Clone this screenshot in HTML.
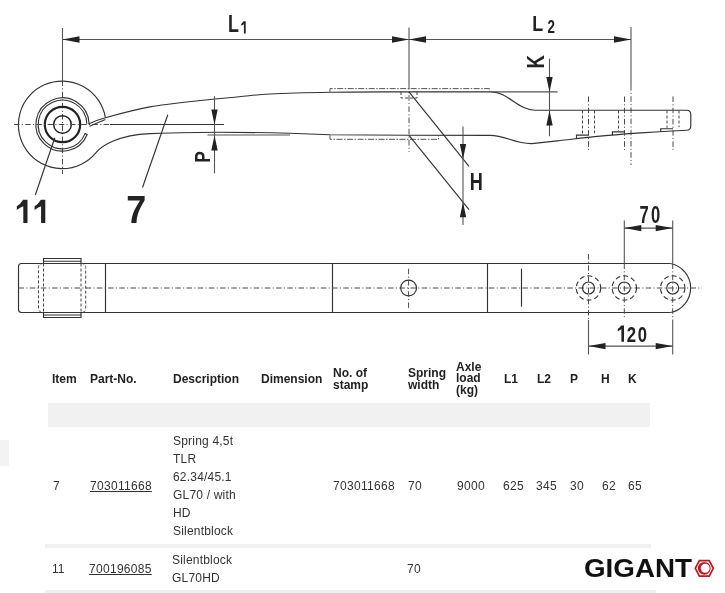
<!DOCTYPE html>
<html><head><meta charset="utf-8">
<style>
html,body{margin:0;padding:0;background:#fff;width:725px;height:593px;overflow:hidden;position:relative;font-family:"Liberation Sans",sans-serif;}
svg{position:absolute;left:0;top:0;will-change:transform;}
svg text{font-family:"Liberation Sans",sans-serif;}
.s{fill:none;stroke:#333;stroke-width:1.15;}
.dd{fill:none;stroke:#4a4a4a;stroke-width:1;stroke-dasharray:5.5 2.3 1.1 2.3;}
.dsh{fill:none;stroke:#444;stroke-width:1;stroke-dasharray:3 2;}
.k{fill:none;stroke:#222;}
.dm{fill:none;stroke:#555;stroke-width:1.1;}
.dc{fill:none;stroke:#333;stroke-width:1.1;stroke-dasharray:5 3;}
.pl{fill:none;stroke:#555;stroke-width:1;stroke-dasharray:6 1.5 1.5 1.5;}
.a{fill:#222;stroke:none;}
.t{position:absolute;white-space:nowrap;color:#333;will-change:transform;}
</style></head><body>
<div style="position:absolute;left:48px;top:403px;width:602px;height:24px;background:#f1f1f1"></div>
<div style="position:absolute;left:0px;top:440px;width:9px;height:26px;background:#f3f3f3"></div>
<div style="position:absolute;left:45px;top:544px;width:606px;height:4px;background:#f0f0f0"></div>
<div style="position:absolute;left:45px;top:590px;width:611px;height:3px;background:#f0f0f0"></div>
<svg width="725" height="360" viewBox="0 0 725 360">
<line class="dm" x1="62.5" y1="39.5" x2="631" y2="39.5"/>
<line class="dm" x1="62.5" y1="28" x2="62.5" y2="80.5"/>
<line class="dm" x1="409" y1="27.5" x2="409" y2="84"/>
<line class="dm" x1="631" y1="27" x2="631" y2="85"/>
<line class="dd" x1="62.5" y1="80.5" x2="62.5" y2="174"/>
<line class="dd" x1="409" y1="84" x2="409" y2="152"/>
<line class="dd" x1="631" y1="85" x2="631" y2="165"/>
<path class="s" d="M105.4 117.7 A43.8 43.8 0 1 0 96.05 152.65 C101.84 145.76 118 135 150 133.6 C175 132.8 200 132.2 220 132.2 C250 132.2 290 133.2 330 134.7 L408 135.3 L490 135.3 C506 135.3 514 143.9 532 143.6" />
<path class="s" d="M89.08 123.57 A26.6 26.6 0 1 0 87.16 134.46 L85.03 133.60 A24.3 24.3 0 1 1 86.79 123.65" />
<circle class="k" cx="62.5" cy="124.5" r="17.7" stroke-width="2.2"/>
<circle class="k" cx="62.5" cy="124.5" r="8.8" stroke-width="1.5"/>
<line class="dd" x1="14" y1="124.5" x2="110" y2="124.5"/>
<line class="s" x1="110" y1="124.5" x2="224" y2="124.5"/>
<path class="s" d="M88.20 124.00 C91.07 122.95 95.10 120.55 105.40 117.70 C115.70 114.85 134.23 109.77 150.00 106.90 C165.77 104.03 185.17 102.18 200.00 100.50 C214.83 98.82 227.33 97.88 239.00 96.80 C250.67 95.72 254.83 94.75 270.00 94.00 C285.17 93.25 308.33 92.65 330.00 92.30 C351.67 91.95 388.33 91.97 400.00 91.90 L491.5 91.9 C508 91.9 518 110.2 535 110.2 L686.5 110.2 Q690.8 110.2 690.8 114.5 L690.8 126 Q690.8 130.2 686.5 130.2" />
<path class="s" d="M532.00 143.60 C536.67 143.08 548.67 141.75 560.00 140.50 C571.33 139.25 586.50 137.37 600.00 136.10 C613.50 134.83 626.58 133.88 641.00 132.90 C655.42 131.92 678.92 130.65 686.50 130.20" />
<line class="s" x1="89.5" y1="126.3" x2="105.4" y2="119.5"/>
<path class="pl" d="M330 91.9 L330 88.6 L489.5 88.6 L489.5 91.9" />
<path class="pl" d="M330 135.3 L330 139.3 L438.6 139.3 L438.6 135.3" />
<path class="dsh" d="M401 92 L401 98 L417 98 L417 92" />
<line class="s" x1="409" y1="91.9" x2="469" y2="166.4"/>
<line class="s" x1="409" y1="135.3" x2="469" y2="209.6"/>
<line class="dm" x1="463" y1="126.5" x2="463" y2="225"/>
<line class="dm" x1="214.5" y1="96.1" x2="214.5" y2="173.3"/>
<line class="dm" x1="207.5" y1="135.0" x2="290" y2="135.0"/>
<line class="dm" x1="491.5" y1="91.9" x2="557.7" y2="91.9"/>
<line class="dm" x1="549.5" y1="58.6" x2="549.5" y2="136.3"/>
<line class="dd" x1="588.5" y1="96.5" x2="588.5" y2="150"/>
<line class="dsh" x1="582.5" y1="110.5" x2="582.5" y2="134.525"/>
<line class="dsh" x1="594.5" y1="110.5" x2="594.5" y2="133.20499999999998"/>
<path class="s" d="M576.5 138.69 L576.5 135.06 L588.5 135.06" stroke-width="0.9"/>
<line class="dd" x1="624.5" y1="96.5" x2="624.5" y2="150"/>
<line class="dsh" x1="618.5" y1="110.5" x2="618.5" y2="131.1560975609756"/>
<path class="s" d="M612.4 135.13 L612.4 131.89 L624.5 131.89" stroke-width="0.9"/>
<line class="dd" x1="673" y1="96.5" x2="673" y2="150"/>
<line class="dsh" x1="667" y1="110.5" x2="667" y2="127.85714285714286"/>
<line class="dsh" x1="679" y1="110.5" x2="679" y2="127.14505494505494"/>
<path class="s" d="M660.7 131.73 L660.7 128.70 L673 128.70" stroke-width="0.9"/>
<line class="s" x1="35.3" y1="195" x2="54.8" y2="137.7"/>
<line class="s" x1="142.5" y1="187.5" x2="167.8" y2="114.8"/>
<path class="s" d="M21.5 263.5 L105.5 263.5 L105.5 312.5 L21.5 312.5 Q18.5 312.5 18.5 309.5 L18.5 266.5 Q18.5 263.5 21.5 263.5 Z" />
<line class="s" x1="105.5" y1="263.5" x2="670.6" y2="263.5"/>
<line class="s" x1="105.5" y1="312.5" x2="670.6" y2="312.5"/>
<path class="s" d="M670.6 263.5 A25 25 0 0 1 670.6 312.5" />
<path class="s" d="M43.5 263.5 L43.5 258.5 L81 258.5 L81 263.5" />
<path class="s" d="M43.5 312.5 L43.5 317.5 L81 317.5 L81 312.5" />
<line class="s" x1="43.5" y1="261.2" x2="81" y2="261.2"/>
<line class="s" x1="43.5" y1="315" x2="81" y2="315"/>
<line class="dsh" x1="43.5" y1="263.5" x2="43.5" y2="312.5"/>
<line class="dsh" x1="81" y1="263.5" x2="81" y2="312.5"/>
<path class="dsh" d="M43.5 263.5 Q38.5 263.5 38.5 267.5 L38.5 308.5 Q38.5 312.5 43.5 312.5" />
<path class="dsh" d="M81 263.5 Q85.7 263.5 85.7 267.5 L85.7 308.5 Q85.7 312.5 81 312.5" />
<line class="s" x1="332.5" y1="263.5" x2="332.5" y2="312.5"/>
<line class="s" x1="487.5" y1="263.5" x2="487.5" y2="312.5"/>
<line class="s" x1="521.5" y1="268.6" x2="521.5" y2="306.7"/>
<line class="dd" x1="18.5" y1="288.0" x2="702" y2="288.0"/>
<circle class="s" cx="408.6" cy="288.0" r="7.9" />
<line class="dd" x1="408.6" y1="268.8" x2="408.6" y2="308.3"/>
<circle class="dc" cx="588.5" cy="288.0" r="12.2" />
<circle class="s" cx="588.5" cy="288.0" r="6.0" stroke-width="1.3"/>
<circle class="dc" cx="624.3" cy="288.0" r="12.2" />
<circle class="s" cx="624.3" cy="288.0" r="6.0" stroke-width="1.3"/>
<circle class="dc" cx="672.7" cy="288.0" r="12.2" />
<circle class="s" cx="672.7" cy="288.0" r="6.0" stroke-width="1.3"/>
<line class="dd" x1="588.5" y1="254" x2="588.5" y2="320"/>
<line class="dm" x1="588.5" y1="320" x2="588.5" y2="354.5"/>
<line class="dm" x1="624.3" y1="220.5" x2="624.3" y2="263.5"/>
<line class="dd" x1="624.3" y1="263.5" x2="624.3" y2="319"/>
<line class="dm" x1="672.7" y1="220.5" x2="672.7" y2="263.5"/>
<line class="dd" x1="672.7" y1="263.5" x2="672.7" y2="320"/>
<line class="dm" x1="672.7" y1="320" x2="672.7" y2="354.5"/>
<line class="dm" x1="624.3" y1="228.1" x2="672.7" y2="228.1"/>
<line class="dm" x1="588.5" y1="346.1" x2="672.7" y2="346.1"/>
<path class="a" d="M62.5 39.5L79.5 36.3L79.5 42.7ZM409 39.5L392 36.3L392 42.7ZM409 39.5L426 36.3L426 42.7ZM631 39.5L614 36.3L614 42.7ZM463 158.9L459.8 143.9L466.2 143.9ZM463 202.2L459.8 217.2L466.2 217.2ZM214.5 124.5L211.3 109.5L217.7 109.5ZM214.5 135.5L211.3 150.5L217.7 150.5ZM549.5 91.9L546.3 76.9L552.7 76.9ZM549.5 110.5L546.3 125.5L552.7 125.5ZM624.3 228.1L641.3 224.9L641.3 231.29999999999998ZM672.7 228.1L655.7 224.9L655.7 231.29999999999998ZM588.5 346.1L605.5 342.90000000000003L605.5 349.3ZM672.7 346.1L655.7 342.90000000000003L655.7 349.3Z"/>
<text transform="translate(228.0,31.9) scale(0.76,1)" font-size="23.5" font-weight="bold" fill="#222">L</text>
<path fill="#222" d="M245.7 21.2 L245.7 33.4 L243.9 33.4 L243.9 24.2 Q242.55 24.759999999999998 241.2 25.799999999999997 L241.2 23.999999999999996 Q243.05 21.999999999999996 243.70000000000002 21.2 Z"/>
<text transform="translate(532.2,30.6) scale(0.8,1)" font-size="22.3" font-weight="bold" fill="#222">L</text>
<text transform="translate(547.5,33.0) scale(0.75,1)" font-size="17.8" font-weight="bold" fill="#222">2</text>
<text transform="translate(543.8,68.5) rotate(-90) scale(0.8,1)" font-size="23.2" font-weight="bold" fill="#222">K</text>
<text transform="translate(210.0,162.8) rotate(-90) scale(0.78,1)" font-size="22.3" font-weight="bold" fill="#222">P</text>
<text transform="translate(469.7,190.2) scale(0.78,1)" font-size="23.2" font-weight="bold" fill="#222">H</text>
<path fill="#222" d="M27.5 199.8 L27.5 222.9 L23.3 222.9 L23.3 206.20000000000002 Q20.05 207.53000000000003 16.8 210.0 L16.8 206.2 Q20.55 204.2 23.1 199.8 Z"/>
<path fill="#222" d="M45.3 199.8 L45.3 222.9 L41.1 222.9 L41.1 206.20000000000002 Q37.85 207.53000000000003 34.6 210.0 L34.6 206.2 Q38.35 204.2 40.9 199.8 Z"/>
<text transform="translate(126.3,222.9) scale(0.93,1)" font-size="38.6" font-weight="bold" fill="#222">7</text>
<text transform="translate(639.5,222.8) scale(0.72,1)" font-size="23" font-weight="bold" fill="#222">7</text>
<text transform="translate(651.0,222.8) scale(0.72,1)" font-size="23" font-weight="bold" fill="#222">0</text>
<path fill="#222" d="M624.0 325.6 L624.0 341.7 L621.4 341.7 L621.4 329.20000000000005 Q619.5999999999999 329.93500000000006 617.8 331.3 L617.8 329.1 Q620.0999999999999 327.1 621.1999999999999 325.6 Z"/>
<text transform="translate(626.8,341.8) scale(0.74,1)" font-size="22.5" font-weight="bold" fill="#222">2</text>
<text transform="translate(637.8,341.8) scale(0.74,1)" font-size="22.5" font-weight="bold" fill="#222">0</text>
</svg>
<div class="t" style="left:52.1px;top:372.2px;font-size:12px;line-height:14px;font-weight:bold;color:#222;">Item</div>
<div class="t" style="left:89.6px;top:372.2px;font-size:12px;line-height:14px;font-weight:bold;color:#222;">Part-No.</div>
<div class="t" style="left:172.7px;top:372.2px;font-size:12px;line-height:14px;font-weight:bold;color:#222;">Description</div>
<div class="t" style="left:260.8px;top:372.2px;font-size:12px;line-height:14px;font-weight:bold;color:#222;">Dimension</div>
<div class="t" style="left:503.8px;top:372.2px;font-size:12px;line-height:14px;font-weight:bold;color:#222;">L1</div>
<div class="t" style="left:536.7px;top:372.2px;font-size:12px;line-height:14px;font-weight:bold;color:#222;">L2</div>
<div class="t" style="left:569.5px;top:372.2px;font-size:12px;line-height:14px;font-weight:bold;color:#222;">P</div>
<div class="t" style="left:601.4px;top:372.2px;font-size:12px;line-height:14px;font-weight:bold;color:#222;">H</div>
<div class="t" style="left:627.6px;top:372.2px;font-size:12px;line-height:14px;font-weight:bold;color:#222;">K</div>
<div class="t" style="left:332.6px;top:366.0px;font-size:12px;line-height:14px;font-weight:bold;color:#222;">No. of</div>
<div class="t" style="left:332.6px;top:377.5px;font-size:12px;line-height:14px;font-weight:bold;color:#222;">stamp</div>
<div class="t" style="left:408.1px;top:366.0px;font-size:12px;line-height:14px;font-weight:bold;color:#222;">Spring</div>
<div class="t" style="left:408.1px;top:377.5px;font-size:12px;line-height:14px;font-weight:bold;color:#222;">width</div>
<div class="t" style="left:456.4px;top:359.8px;font-size:12px;line-height:14px;font-weight:bold;color:#222;">Axle</div>
<div class="t" style="left:456.4px;top:371.4px;font-size:12px;line-height:14px;font-weight:bold;color:#222;">load</div>
<div class="t" style="left:456.4px;top:383.0px;font-size:12px;line-height:14px;font-weight:bold;color:#222;">(kg)</div>
<div class="t" style="left:53.0px;top:478.5px;font-size:12px;line-height:14px;font-weight:normal;color:#333;">7</div>
<div class="t" style="left:89.7px;top:478.5px;font-size:12px;line-height:14px;font-weight:normal;color:#333;letter-spacing:0.3px;text-decoration:underline;">703011668</div>
<div class="t" style="left:172.6px;top:434.3px;font-size:12px;line-height:14px;font-weight:normal;color:#333;letter-spacing:0.2px;">Spring 4,5t</div>
<div class="t" style="left:172.6px;top:452.3px;font-size:12px;line-height:14px;font-weight:normal;color:#333;letter-spacing:0.2px;">TLR</div>
<div class="t" style="left:172.6px;top:470.3px;font-size:12px;line-height:14px;font-weight:normal;color:#333;letter-spacing:0.2px;">62.34/45.1</div>
<div class="t" style="left:172.6px;top:488.3px;font-size:12px;line-height:14px;font-weight:normal;color:#333;letter-spacing:0.2px;">GL70 / with</div>
<div class="t" style="left:172.6px;top:506.3px;font-size:12px;line-height:14px;font-weight:normal;color:#333;letter-spacing:0.2px;">HD</div>
<div class="t" style="left:172.6px;top:524.3px;font-size:12px;line-height:14px;font-weight:normal;color:#333;letter-spacing:0.2px;">Silentblock</div>
<div class="t" style="left:332.9px;top:478.5px;font-size:12px;line-height:14px;font-weight:normal;color:#333;letter-spacing:0.3px;">703011668</div>
<div class="t" style="left:407.7px;top:478.5px;font-size:12px;line-height:14px;font-weight:normal;color:#333;letter-spacing:0.3px;">70</div>
<div class="t" style="left:456.5px;top:478.5px;font-size:12px;line-height:14px;font-weight:normal;color:#333;letter-spacing:0.3px;">9000</div>
<div class="t" style="left:503.4px;top:478.5px;font-size:12px;line-height:14px;font-weight:normal;color:#333;letter-spacing:0.3px;">625</div>
<div class="t" style="left:536.2px;top:478.5px;font-size:12px;line-height:14px;font-weight:normal;color:#333;letter-spacing:0.3px;">345</div>
<div class="t" style="left:569.5px;top:478.5px;font-size:12px;line-height:14px;font-weight:normal;color:#333;letter-spacing:0.3px;">30</div>
<div class="t" style="left:601.9px;top:478.5px;font-size:12px;line-height:14px;font-weight:normal;color:#333;letter-spacing:0.3px;">62</div>
<div class="t" style="left:627.6px;top:478.5px;font-size:12px;line-height:14px;font-weight:normal;color:#333;letter-spacing:0.3px;">65</div>
<div class="t" style="left:51.6px;top:562.0px;font-size:12px;line-height:14px;font-weight:normal;color:#333;">11</div>
<div class="t" style="left:88.6px;top:562.0px;font-size:12px;line-height:14px;font-weight:normal;color:#333;letter-spacing:0.3px;text-decoration:underline;">700196085</div>
<div class="t" style="left:171.7px;top:553.0px;font-size:12px;line-height:14px;font-weight:normal;color:#333;letter-spacing:0.2px;">Silentblock</div>
<div class="t" style="left:171.7px;top:570.7px;font-size:12px;line-height:14px;font-weight:normal;color:#333;letter-spacing:0.2px;">GL70HD</div>
<div class="t" style="left:407.0px;top:561.8px;font-size:12px;line-height:14px;font-weight:normal;color:#333;letter-spacing:0.3px;">70</div>
<div class="t" style="left:584px;top:553px;font-size:25px;line-height:30px;font-weight:bold;color:#111;transform:scaleX(1.11);transform-origin:0 0">GIGANT</div><svg style="position:absolute;left:690px;top:555px" width="30" height="26" viewBox="690 555 30 26"><path d="M699.4 560.6 L709.2 560.6 L713.3 568.3 L709.2 576.1 L699.4 576.1 L695.3 568.3 Z" fill="none" stroke="#c0161d" stroke-width="1.7"/><path fill-rule="evenodd" fill="#c0161d" d="M697.9 568.3 a6.4 6.4 0 1 0 12.8 0 a6.4 6.4 0 1 0 -12.8 0 Z M700.7 568.2 a4.5 4.5 0 1 0 9 0 a4.5 4.5 0 1 0 -9 0 Z"/></svg>
</body></html>
